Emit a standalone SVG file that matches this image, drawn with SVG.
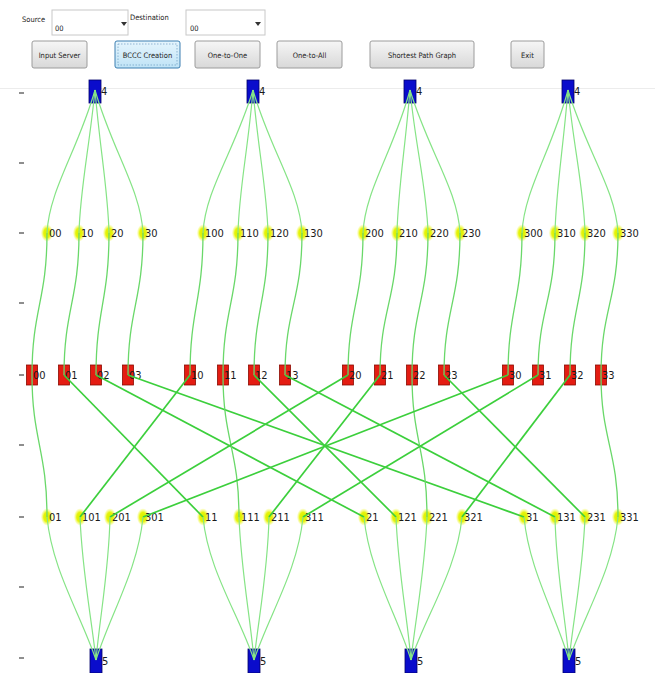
<svg xmlns="http://www.w3.org/2000/svg" width="655" height="673" viewBox="0 0 655 673">
  <defs>
    <linearGradient id="btnFill" x1="0" y1="0" x2="0" y2="1">
      <stop offset="0" stop-color="#f6f6f6"/>
      <stop offset="1" stop-color="#d8d8d8"/>
    </linearGradient>
    <linearGradient id="btnActive" x1="0" y1="0" x2="0" y2="1">
      <stop offset="0" stop-color="#e6f5fd"/>
      <stop offset="1" stop-color="#bfe3f6"/>
    </linearGradient>
    <radialGradient id="yellowGlow" cx="0.5" cy="0.5" r="0.5">
      <stop offset="0" stop-color="#d6ee00"/>
      <stop offset="0.55" stop-color="#e6f40a"/>
      <stop offset="1" stop-color="#f4fa60" stop-opacity="0.15"/>
    </radialGradient>
    <style>
      .ui { font-family: "DejaVu Sans Condensed", "Liberation Sans", sans-serif; font-size: 7.5px; fill: #222; }
      .btn { fill: url(#btnFill); stroke: #9c9c9c; stroke-width: 1; }
      .btn-on { fill: url(#btnActive); stroke: #3c7fb1; stroke-width: 1; }
      .combo { fill: #ffffff; stroke: #c8c8c8; stroke-width: 1; }
      .tick { stroke: #444; stroke-width: 1.2; }
      .sw { fill: #0a0ccc; stroke: #00006a; stroke-width: 0.8; }
      .srv { fill: #e41c12; stroke: #8a0a00; stroke-width: 0.8; }
      .yel { fill: url(#yellowGlow); }
      .lbl { font-family: "DejaVu Sans Condensed", "Liberation Sans", sans-serif; font-size: 11px; fill: #1a1a1a; }
      .e-top { fill: none; stroke: #86e486; stroke-width: 1.2; }
      .e-mid { fill: none; stroke: #6ad86a; stroke-width: 1.3; }
      .e-x { fill: none; stroke: #3ccf3c; stroke-width: 1.7; }
      .e-bot { fill: none; stroke: #86e486; stroke-width: 1.2; }
    </style>
  </defs>

  <rect width="655" height="673" fill="#ffffff"/>

  <!-- control bar -->
  <g id="controls">
    <text class="ui" x="22" y="22">Source</text>
    <rect class="combo" x="52" y="10" width="76" height="25"/>
    <text class="ui" x="55" y="31">00</text>
    <path d="M121,22 L127,22 L124,26 Z" fill="#333"/>
    <text class="ui" x="130" y="20">Destination</text>
    <rect class="combo" x="186" y="10" width="79" height="25"/>
    <text class="ui" x="190" y="31">00</text>
    <path d="M255,22 L261,22 L258,26 Z" fill="#333"/>

    <rect class="btn" x="32" y="41" width="55" height="27" rx="2"/>
    <text class="ui" x="59.5" y="57.5" text-anchor="middle">Input Server</text>
    <rect class="btn-on" x="115" y="41" width="65" height="27" rx="2"/>
    <rect x="118" y="44" width="59" height="21" fill="none" stroke="#5a8fb8" stroke-width="0.6" stroke-dasharray="1.5,1.5"/>
    <text class="ui" x="147.5" y="57.5" text-anchor="middle">BCCC Creation</text>
    <rect class="btn" x="195" y="41" width="65" height="27" rx="2"/>
    <text class="ui" x="227.5" y="57.5" text-anchor="middle">One-to-One</text>
    <rect class="btn" x="277" y="41" width="65" height="27" rx="2"/>
    <text class="ui" x="309.5" y="57.5" text-anchor="middle">One-to-All</text>
    <rect class="btn" x="370" y="41" width="104" height="27" rx="2"/>
    <text class="ui" x="422" y="57.5" text-anchor="middle">Shortest Path Graph</text>
    <rect class="btn" x="511" y="41" width="33" height="27" rx="2"/>
    <text class="ui" x="527.5" y="57.5" text-anchor="middle">Exit</text>
  </g>

  <!-- axis frame and ticks -->
  <g id="axis">
    <line x1="0" y1="88.5" x2="655" y2="88.5" stroke="#ececec" stroke-width="1"/>
    <line class="tick" x1="19" y1="93" x2="24" y2="93"/>
    <line class="tick" x1="19" y1="163" x2="24" y2="163"/>
    <line class="tick" x1="19" y1="233" x2="24" y2="233"/>
    <line class="tick" x1="19" y1="303" x2="24" y2="303"/>
    <line class="tick" x1="19" y1="375" x2="24" y2="375"/>
    <line class="tick" x1="19" y1="445" x2="24" y2="445"/>
    <line class="tick" x1="19" y1="517" x2="24" y2="517"/>
    <line class="tick" x1="19" y1="587" x2="24" y2="587"/>
    <line class="tick" x1="19" y1="658" x2="24" y2="658"/>
  </g>

  <!-- top switches -->
  <g id="sw-top-0"><rect class="sw" x="89" y="80" width="12" height="23"/><text class="lbl" x="101" y="95">4</text></g>
  <g id="sw-top-1"><rect class="sw" x="247" y="80" width="12" height="23"/><text class="lbl" x="259" y="95">4</text></g>
  <g id="sw-top-2"><rect class="sw" x="404" y="80" width="12" height="23"/><text class="lbl" x="416" y="95">4</text></g>
  <g id="sw-top-3"><rect class="sw" x="562" y="80" width="12" height="23"/><text class="lbl" x="574" y="95">4</text></g>

  <!-- upper level-0 switches -->
  <g id="u-00"><ellipse class="yel" cx="47" cy="233" rx="6" ry="8.5"/><text class="lbl" x="49" y="237">00</text></g>
  <g id="u-10"><ellipse class="yel" cx="79" cy="233" rx="6" ry="8.5"/><text class="lbl" x="81" y="237">10</text></g>
  <g id="u-20"><ellipse class="yel" cx="109" cy="233" rx="6" ry="8.5"/><text class="lbl" x="111" y="237">20</text></g>
  <g id="u-30"><ellipse class="yel" cx="143" cy="233" rx="6" ry="8.5"/><text class="lbl" x="145" y="237">30</text></g>
  <g id="u-100"><ellipse class="yel" cx="203" cy="233" rx="6" ry="8.5"/><text class="lbl" x="205" y="237">100</text></g>
  <g id="u-110"><ellipse class="yel" cx="238" cy="233" rx="6" ry="8.5"/><text class="lbl" x="240" y="237">110</text></g>
  <g id="u-120"><ellipse class="yel" cx="268" cy="233" rx="6" ry="8.5"/><text class="lbl" x="270" y="237">120</text></g>
  <g id="u-130"><ellipse class="yel" cx="302" cy="233" rx="6" ry="8.5"/><text class="lbl" x="304" y="237">130</text></g>
  <g id="u-200"><ellipse class="yel" cx="363" cy="233" rx="6" ry="8.5"/><text class="lbl" x="365" y="237">200</text></g>
  <g id="u-210"><ellipse class="yel" cx="397" cy="233" rx="6" ry="8.5"/><text class="lbl" x="399" y="237">210</text></g>
  <g id="u-220"><ellipse class="yel" cx="428" cy="233" rx="6" ry="8.5"/><text class="lbl" x="430" y="237">220</text></g>
  <g id="u-230"><ellipse class="yel" cx="460" cy="233" rx="6" ry="8.5"/><text class="lbl" x="462" y="237">230</text></g>
  <g id="u-300"><ellipse class="yel" cx="522" cy="233" rx="6" ry="8.5"/><text class="lbl" x="524" y="237">300</text></g>
  <g id="u-310"><ellipse class="yel" cx="555" cy="233" rx="6" ry="8.5"/><text class="lbl" x="557" y="237">310</text></g>
  <g id="u-320"><ellipse class="yel" cx="585" cy="233" rx="6" ry="8.5"/><text class="lbl" x="587" y="237">320</text></g>
  <g id="u-330"><ellipse class="yel" cx="618" cy="233" rx="6" ry="8.5"/><text class="lbl" x="620" y="237">330</text></g>

  <!-- servers -->
  <g id="s-00"><rect class="srv" x="26.5" y="365" width="11" height="20"/><text class="lbl" x="33" y="379">00</text></g>
  <g id="s-01"><rect class="srv" x="58.5" y="365" width="11" height="20"/><text class="lbl" x="65" y="379">01</text></g>
  <g id="s-02"><rect class="srv" x="90.5" y="365" width="11" height="20"/><text class="lbl" x="97" y="379">02</text></g>
  <g id="s-03"><rect class="srv" x="122.5" y="365" width="11" height="20"/><text class="lbl" x="129" y="379">03</text></g>
  <g id="s-10"><rect class="srv" x="184.5" y="365" width="11" height="20"/><text class="lbl" x="191" y="379">10</text></g>
  <g id="s-11"><rect class="srv" x="217.5" y="365" width="11" height="20"/><text class="lbl" x="224" y="379">11</text></g>
  <g id="s-12"><rect class="srv" x="248.5" y="365" width="11" height="20"/><text class="lbl" x="255" y="379">12</text></g>
  <g id="s-13"><rect class="srv" x="279.5" y="365" width="11" height="20"/><text class="lbl" x="286" y="379">13</text></g>
  <g id="s-20"><rect class="srv" x="342.5" y="365" width="11" height="20"/><text class="lbl" x="349" y="379">20</text></g>
  <g id="s-21"><rect class="srv" x="374.5" y="365" width="11" height="20"/><text class="lbl" x="381" y="379">21</text></g>
  <g id="s-22"><rect class="srv" x="406.5" y="365" width="11" height="20"/><text class="lbl" x="413" y="379">22</text></g>
  <g id="s-23"><rect class="srv" x="438.5" y="365" width="11" height="20"/><text class="lbl" x="445" y="379">23</text></g>
  <g id="s-30"><rect class="srv" x="502.5" y="365" width="11" height="20"/><text class="lbl" x="509" y="379">30</text></g>
  <g id="s-31"><rect class="srv" x="532.5" y="365" width="11" height="20"/><text class="lbl" x="539" y="379">31</text></g>
  <g id="s-32"><rect class="srv" x="564.5" y="365" width="11" height="20"/><text class="lbl" x="571" y="379">32</text></g>
  <g id="s-33"><rect class="srv" x="595.5" y="365" width="11" height="20"/><text class="lbl" x="602" y="379">33</text></g>

  <!-- lower level-1 switches -->
  <g id="l-01"><ellipse class="yel" cx="47" cy="517" rx="6" ry="8.5"/><text class="lbl" x="49" y="521">01</text></g>
  <g id="l-101"><ellipse class="yel" cx="80" cy="517" rx="6" ry="8.5"/><text class="lbl" x="82" y="521">101</text></g>
  <g id="l-201"><ellipse class="yel" cx="110" cy="517" rx="6" ry="8.5"/><text class="lbl" x="112" y="521">201</text></g>
  <g id="l-301"><ellipse class="yel" cx="143" cy="517" rx="6" ry="8.5"/><text class="lbl" x="145" y="521">301</text></g>
  <g id="l-11"><ellipse class="yel" cx="203" cy="517" rx="6" ry="8.5"/><text class="lbl" x="205" y="521">11</text></g>
  <g id="l-111"><ellipse class="yel" cx="239" cy="517" rx="6" ry="8.5"/><text class="lbl" x="241" y="521">111</text></g>
  <g id="l-211"><ellipse class="yel" cx="269" cy="517" rx="6" ry="8.5"/><text class="lbl" x="271" y="521">211</text></g>
  <g id="l-311"><ellipse class="yel" cx="303" cy="517" rx="6" ry="8.5"/><text class="lbl" x="305" y="521">311</text></g>
  <g id="l-21"><ellipse class="yel" cx="364" cy="517" rx="6" ry="8.5"/><text class="lbl" x="366" y="521">21</text></g>
  <g id="l-121"><ellipse class="yel" cx="396" cy="517" rx="6" ry="8.5"/><text class="lbl" x="398" y="521">121</text></g>
  <g id="l-221"><ellipse class="yel" cx="427" cy="517" rx="6" ry="8.5"/><text class="lbl" x="429" y="521">221</text></g>
  <g id="l-321"><ellipse class="yel" cx="462" cy="517" rx="6" ry="8.5"/><text class="lbl" x="464" y="521">321</text></g>
  <g id="l-31"><ellipse class="yel" cx="524" cy="517" rx="6" ry="8.5"/><text class="lbl" x="526" y="521">31</text></g>
  <g id="l-131"><ellipse class="yel" cx="555" cy="517" rx="6" ry="8.5"/><text class="lbl" x="557" y="521">131</text></g>
  <g id="l-231"><ellipse class="yel" cx="585" cy="517" rx="6" ry="8.5"/><text class="lbl" x="587" y="521">231</text></g>
  <g id="l-331"><ellipse class="yel" cx="618" cy="517" rx="6" ry="8.5"/><text class="lbl" x="620" y="521">331</text></g>

  <!-- bottom switches -->
  <g id="sw-bot-0"><rect class="sw" x="90" y="649" width="12" height="24"/><text class="lbl" x="102" y="665">5</text></g>
  <g id="sw-bot-1"><rect class="sw" x="248" y="649" width="12" height="24"/><text class="lbl" x="260" y="665">5</text></g>
  <g id="sw-bot-2"><rect class="sw" x="405" y="649" width="12" height="24"/><text class="lbl" x="417" y="665">5</text></g>
  <g id="sw-bot-3"><rect class="sw" x="563" y="649" width="12" height="24"/><text class="lbl" x="575" y="665">5</text></g>

  <!-- links -->
  <g id="connectors">
    <!-- top switch to upper switches -->
    <path class="e-top" d="M95,90 C78,150 49,190 47,233"/>
    <path class="e-top" d="M95,90 C89,150 80,190 79,233"/>
    <path class="e-top" d="M95,90 C100,150 108,190 109,233"/>
    <path class="e-top" d="M95,90 C112,150 141,190 143,233"/>
    <path class="e-top" d="M253,90 C235,150 205,190 203,233"/>
    <path class="e-top" d="M253,90 C248,150 239,190 238,233"/>
    <path class="e-top" d="M253,90 C258,150 267,190 268,233"/>
    <path class="e-top" d="M253,90 C270,150 300,190 302,233"/>
    <path class="e-top" d="M410,90 C394,150 365,190 363,233"/>
    <path class="e-top" d="M410,90 C405,150 398,190 397,233"/>
    <path class="e-top" d="M410,90 C416,150 427,190 428,233"/>
    <path class="e-top" d="M410,90 C428,150 458,190 460,233"/>
    <path class="e-top" d="M568,90 C552,150 524,190 522,233"/>
    <path class="e-top" d="M568,90 C563,150 556,190 555,233"/>
    <path class="e-top" d="M568,90 C574,150 584,190 585,233"/>
    <path class="e-top" d="M568,90 C586,150 616,190 618,233"/>

    <!-- upper switches to servers -->
    <path class="e-mid" d="M47,233 C47,300 32,310 32,375"/>
    <path class="e-mid" d="M79,233 C79,300 64,310 64,375"/>
    <path class="e-mid" d="M109,233 C109,300 96,310 96,375"/>
    <path class="e-mid" d="M143,233 C143,300 128,310 128,375"/>
    <path class="e-mid" d="M203,233 C203,300 190,310 190,375"/>
    <path class="e-mid" d="M238,233 C238,300 223,310 223,375"/>
    <path class="e-mid" d="M268,233 C268,300 254,310 254,375"/>
    <path class="e-mid" d="M302,233 C302,300 285,310 285,375"/>
    <path class="e-mid" d="M363,233 C363,300 348,310 348,375"/>
    <path class="e-mid" d="M397,233 C397,300 380,310 380,375"/>
    <path class="e-mid" d="M428,233 C428,300 412,310 412,375"/>
    <path class="e-mid" d="M460,233 C460,300 444,310 444,375"/>
    <path class="e-mid" d="M522,233 C522,300 508,310 508,375"/>
    <path class="e-mid" d="M555,233 C555,300 538,310 538,375"/>
    <path class="e-mid" d="M585,233 C585,300 570,310 570,375"/>
    <path class="e-mid" d="M618,233 C618,300 601,310 601,375"/>

    <!-- servers to lower switches -->
    <path class="e-mid" d="M32,375 C32,440 47,450 47,517"/>
    <path class="e-x" d="M64,375 L203,517"/>
    <path class="e-x" d="M96,375 L364,517"/>
    <path class="e-x" d="M128,375 L524,517"/>
    <path class="e-x" d="M190,375 L80,517"/>
    <path class="e-mid" d="M223,375 C223,440 239,450 239,517"/>
    <path class="e-x" d="M254,375 L396,517"/>
    <path class="e-x" d="M285,375 L555,517"/>
    <path class="e-x" d="M348,375 L110,517"/>
    <path class="e-x" d="M380,375 L269,517"/>
    <path class="e-mid" d="M412,375 C412,440 427,450 427,517"/>
    <path class="e-x" d="M444,375 L585,517"/>
    <path class="e-x" d="M508,375 L143,517"/>
    <path class="e-x" d="M538,375 L303,517"/>
    <path class="e-x" d="M570,375 L462,517"/>
    <path class="e-mid" d="M601,375 C601,440 618,450 618,517"/>

    <!-- lower switches to bottom switch -->
    <path class="e-bot" d="M47,517 C52,570 81,615 96,660"/>
    <path class="e-bot" d="M80,517 C82,570 91,615 96,660"/>
    <path class="e-bot" d="M110,517 C109,570 100,615 96,660"/>
    <path class="e-bot" d="M143,517 C138,570 110,615 96,660"/>
    <path class="e-bot" d="M203,517 C208,570 239,615 254,660"/>
    <path class="e-bot" d="M239,517 C241,570 250,615 254,660"/>
    <path class="e-bot" d="M269,517 C268,570 259,615 254,660"/>
    <path class="e-bot" d="M303,517 C298,570 269,615 254,660"/>
    <path class="e-bot" d="M364,517 C369,570 397,615 411,660"/>
    <path class="e-bot" d="M396,517 C398,570 407,615 411,660"/>
    <path class="e-bot" d="M427,517 C425,570 416,615 411,660"/>
    <path class="e-bot" d="M462,517 C457,570 426,615 411,660"/>
    <path class="e-bot" d="M524,517 C529,570 556,615 569,660"/>
    <path class="e-bot" d="M555,517 C556,570 565,615 569,660"/>
    <path class="e-bot" d="M585,517 C583,570 574,615 569,660"/>
    <path class="e-bot" d="M618,517 C613,570 584,615 569,660"/>
  </g>
</svg>
